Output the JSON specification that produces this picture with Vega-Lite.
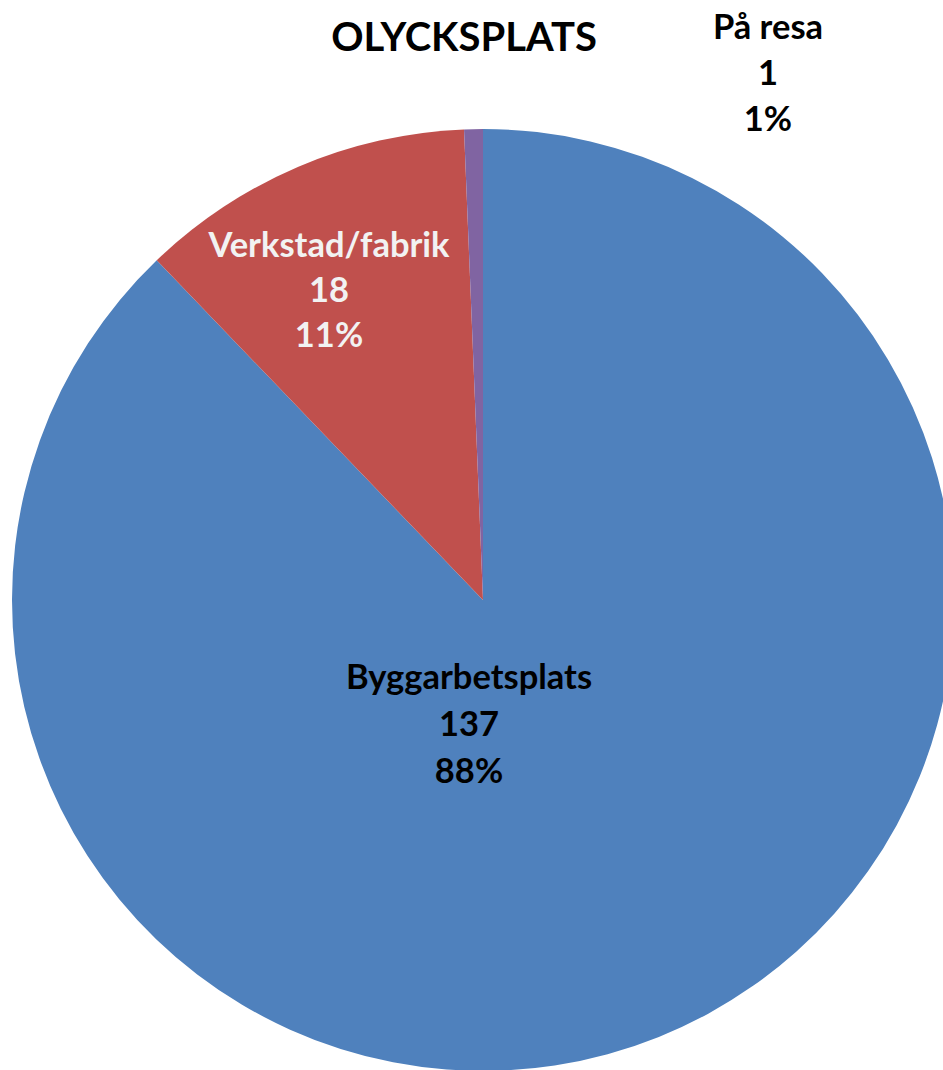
{
  "$schema": "https://vega.github.io/schema/vega-lite/v6.json",
  "width": 966,
  "height": 1200,
  "autosize": "none",
  "padding": 0,
  "background": "white",
  "title": {"text": "OLYCKSPLATS", "font": "Lato", "fontWeight": "bold", "fontSize": 40, "color": "black", "anchor": "middle", "baseline": "alphabetic", "offset": -91, "dx": -19},
  "data": {"values": [
    {"place": "Byggarbetsplats", "count": 137, "pct": "88%", "ord": 1},
    {"place": "Verkstad/fabrik", "count": 18, "pct": "11%", "ord": 2},
    {"place": "På resa", "count": 1, "pct": "1%", "ord": 3}
  ]},
  "transform": [{"calculate": "datum.place + '\\n' + datum.count + '\\n' + datum.pct", "as": "label"}],
  "layer": [
    {
      "mark": {"type": "arc", "outerRadius": 471},
      "encoding": {
        "theta": {"field": "count", "type": "quantitative", "stack": true},
        "order": {"field": "ord", "type": "quantitative"},
        "color": {"field": "place", "type": "nominal", "legend": null,
          "scale": {"domain": ["Byggarbetsplats", "Verkstad/fabrik", "På resa"], "range": ["#4F81BD", "#C0504D", "#8064A2"]}}
      }
    },
    {
      "transform": [{"filter": "datum.place === 'Byggarbetsplats'"}],
      "mark": {"type": "text", "font": "Lato", "fontWeight": "bold", "fontSize": 34.5, "lineBreak": "\n", "lineHeight": 47, "align": "center", "baseline": "alphabetic", "dx": -14, "dy": 89, "color": "black"},
      "encoding": {"text": {"field": "label"}}
    },
    {
      "transform": [{"filter": "datum.place === 'Verkstad/fabrik'"}],
      "mark": {"type": "text", "font": "Lato", "fontWeight": "bold", "fontSize": 34.5, "lineBreak": "\n", "lineHeight": 45, "align": "center", "baseline": "alphabetic", "dx": -154, "dy": -343, "color": "#F2F2F2"},
      "encoding": {"text": {"field": "label"}}
    },
    {
      "transform": [{"filter": "datum.place === 'På resa'"}],
      "mark": {"type": "text", "font": "Lato", "fontWeight": "bold", "fontSize": 34.5, "lineBreak": "\n", "lineHeight": 46, "align": "center", "baseline": "alphabetic", "dx": 285, "dy": -561, "color": "black"},
      "encoding": {"text": {"field": "label"}}
    }
  ]
}
